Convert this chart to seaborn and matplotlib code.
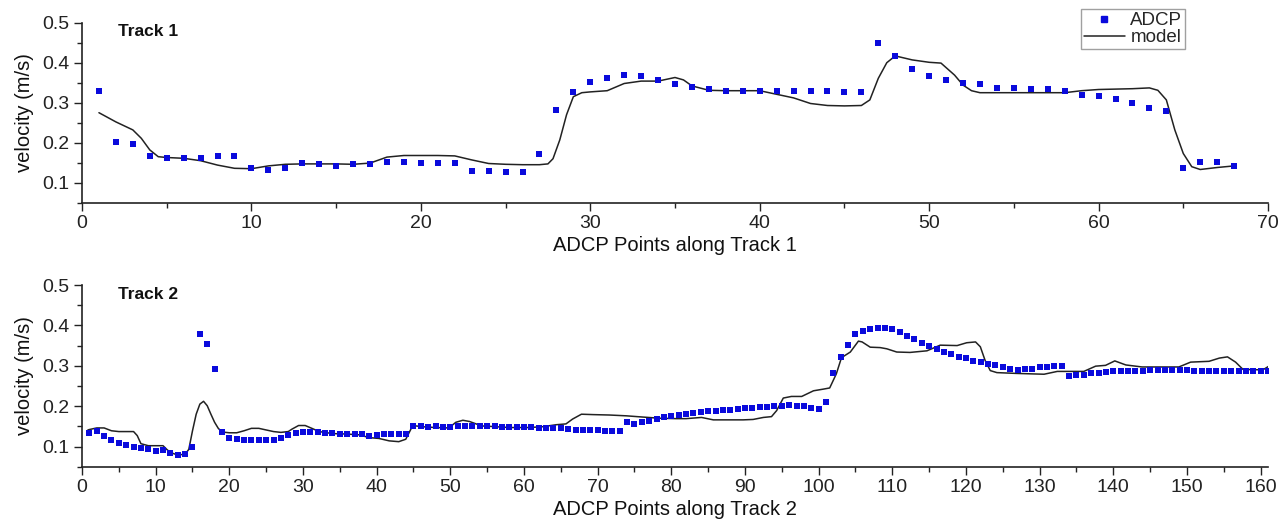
import numpy as np
import pandas as pd
import matplotlib
matplotlib.use("Agg")
import matplotlib.pyplot as plt
from matplotlib.ticker import MultipleLocator
from matplotlib.lines import Line2D
import seaborn as sns

# ---------------- Track 1 ----------------
t1_adcp_x = list(range(1, 69))
t1_adcp_v = [0.330, 0.203, 0.198, 0.168, 0.163, 0.163, 0.161, 0.167, 0.166, 0.136,
             0.133, 0.138, 0.149, 0.147, 0.143, 0.146, 0.148, 0.151, 0.152, 0.150,
             0.149, 0.150, 0.129, 0.129, 0.128, 0.127, 0.172, 0.281, 0.326, 0.352,
             0.362, 0.369, 0.368, 0.356, 0.347, 0.340, 0.334, 0.330, 0.330, 0.330,
             0.329, 0.328, 0.328, 0.329, 0.327, 0.327, 0.450, 0.417, 0.384, 0.368,
             0.358, 0.349, 0.346, 0.336, 0.336, 0.333, 0.333, 0.329, 0.319, 0.317,
             0.309, 0.299, 0.288, 0.278, 0.138, 0.151, 0.151, 0.142]

t1_model_x = [1, 2, 3, 3.5, 4, 4.5, 5, 6, 7, 8, 9, 10, 11, 12, 13, 14, 15, 16, 17, 18,
              19, 20, 21, 22, 23, 24, 25, 26, 27, 27.5, 27.8, 28.2, 28.6, 29, 29.5, 30,
              31, 32, 33, 34, 35, 35.5, 36, 37, 38, 39, 40, 41, 42, 43, 44, 45, 46, 46.5,
              47, 47.5, 48, 49, 50, 50.7, 51.5, 52, 52.5, 53, 54, 55, 56, 57, 58, 59, 60,
              61, 62, 63, 63.5, 64, 64.5, 65, 65.5, 66, 67, 68]
t1_model_v = [0.275, 0.252, 0.232, 0.211, 0.182, 0.165, 0.163, 0.161, 0.155, 0.144,
              0.136, 0.135, 0.142, 0.146, 0.147, 0.147, 0.147, 0.146, 0.149, 0.164,
              0.168, 0.168, 0.168, 0.167, 0.157, 0.148, 0.146, 0.145, 0.145, 0.147,
              0.160, 0.207, 0.270, 0.315, 0.325, 0.327, 0.330, 0.348, 0.354, 0.354,
              0.363, 0.357, 0.342, 0.331, 0.330, 0.330, 0.330, 0.321, 0.312, 0.298,
              0.293, 0.292, 0.293, 0.307, 0.361, 0.400, 0.417, 0.407, 0.401, 0.399,
              0.369, 0.344, 0.330, 0.325, 0.325, 0.325, 0.325, 0.325, 0.325, 0.330,
              0.333, 0.334, 0.335, 0.337, 0.331, 0.307, 0.232, 0.173, 0.140, 0.133,
              0.138, 0.142]

# ---------------- Track 2 ----------------
t2_adcp_x = list(range(1, 162))
t2_adcp_v = [0.133, 0.138, 0.125, 0.116, 0.108, 0.104, 0.100, 0.097, 0.094, 0.090,
             0.091, 0.083, 0.080, 0.082, 0.099, 0.378, 0.354, 0.293, 0.136, 0.120,
             0.118, 0.117, 0.115, 0.115, 0.116, 0.117, 0.122, 0.128, 0.133, 0.135,
             0.137, 0.137, 0.134, 0.134, 0.132, 0.131, 0.131, 0.130, 0.127, 0.128,
             0.130, 0.131, 0.132, 0.132, 0.152, 0.151, 0.149, 0.150, 0.148, 0.148,
             0.150, 0.151, 0.151, 0.151, 0.151, 0.150, 0.149, 0.149, 0.148, 0.149,
             0.148, 0.147, 0.146, 0.146, 0.145, 0.144, 0.142, 0.141, 0.141, 0.140,
             0.138, 0.138, 0.138, 0.160, 0.156, 0.161, 0.164, 0.169, 0.172, 0.176,
             0.178, 0.181, 0.184, 0.185, 0.187, 0.188, 0.190, 0.190, 0.192, 0.195,
             0.196, 0.197, 0.199, 0.200, 0.200, 0.202, 0.201, 0.200, 0.195, 0.192,
             0.211, 0.283, 0.321, 0.351, 0.379, 0.387, 0.392, 0.394, 0.394, 0.390,
             0.384, 0.374, 0.366, 0.357, 0.350, 0.342, 0.333, 0.328, 0.322, 0.318,
             0.313, 0.310, 0.305, 0.301, 0.296, 0.292, 0.290, 0.292, 0.293, 0.296,
             0.297, 0.299, 0.300, 0.274, 0.276, 0.278, 0.281, 0.283, 0.284, 0.286,
             0.287, 0.288, 0.288, 0.288, 0.289, 0.290, 0.290, 0.290, 0.290, 0.289,
             0.288, 0.288, 0.288, 0.288, 0.288, 0.288, 0.288, 0.287, 0.287, 0.287,
             0.286]

t2_model_x = [0.8, 1, 2, 3, 4, 5, 6, 7, 7.5, 8, 9, 10, 11, 11.5, 12, 13, 14, 14.5, 15,
              15.5, 16, 16.5, 17, 17.5, 18, 18.5, 19, 20, 21, 22, 23, 24, 25, 26, 27,
              28, 28.5, 29.4, 30.3, 31.2, 32.2, 34, 35.8, 37.6, 39, 40.3, 41.7, 43,
              43.95, 44.9, 46.2, 48, 49.8, 50.75, 51.7, 52.6, 53.5, 54.2, 55.3, 58,
              60.7, 62.5, 64.4, 65.7, 66.6, 67.8, 69.4, 71.6, 73.9, 76.1, 78.4, 80.7,
              82, 84.1, 85.7, 87.5, 89.75, 91.1, 92.5, 93.6, 94.3, 95.2, 96.3, 97.7,
              99.3, 100.6, 101.5, 102.4, 103.1, 104.3, 105.4, 105.9, 107, 108.35,
              109.25, 110.6, 112.4, 114.7, 116.5, 118.8, 120.1, 121.3, 121.95, 122.6,
              123.3, 124.2, 126.9, 130.6, 132.4, 135.1, 136, 137.6, 138.95, 140.2,
              141.7, 143.9, 146.2, 148.9, 150.5, 153, 154.4, 155.5, 156.6, 157.6,
              159.8, 160.5, 161.3]
t2_model_v = [0.141, 0.142, 0.146, 0.146, 0.139, 0.137, 0.137, 0.137, 0.127, 0.107,
              0.102, 0.102, 0.102, 0.093, 0.085, 0.079, 0.081, 0.093, 0.139, 0.180,
              0.205, 0.212, 0.201, 0.180, 0.160, 0.145, 0.136, 0.134, 0.134, 0.139,
              0.145, 0.145, 0.141, 0.137, 0.135, 0.137, 0.143, 0.152, 0.152, 0.145,
              0.137, 0.132, 0.131, 0.129, 0.122, 0.120, 0.114, 0.112, 0.118, 0.152,
              0.149, 0.147, 0.146, 0.160, 0.165, 0.162, 0.156, 0.151, 0.150, 0.147,
              0.147, 0.149, 0.154, 0.156, 0.168, 0.180, 0.179, 0.178, 0.176, 0.173,
              0.170, 0.169, 0.169, 0.172, 0.166, 0.166, 0.166, 0.167, 0.172, 0.174,
              0.189, 0.220, 0.224, 0.224, 0.238, 0.242, 0.245, 0.280, 0.320, 0.334,
              0.361, 0.359, 0.346, 0.345, 0.342, 0.334, 0.333, 0.337, 0.351, 0.350,
              0.357, 0.359, 0.347, 0.313, 0.288, 0.283, 0.281, 0.279, 0.286, 0.286,
              0.286, 0.299, 0.301, 0.312, 0.302, 0.297, 0.297, 0.297, 0.309, 0.311,
              0.319, 0.322, 0.309, 0.291, 0.290, 0.292, 0.301]

track_labels = ["Track 1", "Track 2"]
xlabels = ["ADCP Points along Track 1", "ADCP Points along Track 2"]
ylabel = "velocity (m/s)"
legend_labels = ["ADCP", "model"]

sns.set_style("ticks")
plt.rcParams["font.family"] = ["Liberation Sans", "DejaVu Sans"]

W, H = 1279, 523
fig = plt.figure(figsize=(W / 100, H / 100), dpi=100)

def fx(px):
    return px / W

def fy(py):
    return 1 - py / H

ax1 = fig.add_axes([fx(82), fy(202.7), fx(1268) - fx(82), fy(22.7) - fy(202.7)])
ax2 = fig.add_axes([fx(82), fy(466.7), fx(1268) - fx(82), fy(285) - fy(466.7)])

blue = "#0a0adc"
line_c = "#222222"

panels = [
    (ax1, t1_adcp_x, t1_adcp_v, t1_model_x, t1_model_v, 70, 10, 5),
    (ax2, t2_adcp_x, t2_adcp_v, t2_model_x, t2_model_v, 161, 10, 5),
]

for i, (ax, ax_x, ax_v, mx, mv, xmax, maj, mnr) in enumerate(panels):
    sns.lineplot(x=mx, y=mv, ax=ax, color=line_c, linewidth=1.1, sort=False,
                 estimator=None)
    sns.scatterplot(x=ax_x, y=ax_v, ax=ax, color=blue, marker="s", s=14,
                    linewidth=0, zorder=3)
    ax.set_xlim(0, xmax)
    ax.set_ylim(0.05, 0.5)
    ax.xaxis.set_major_locator(MultipleLocator(maj))
    ax.xaxis.set_minor_locator(MultipleLocator(mnr))
    ax.yaxis.set_major_locator(MultipleLocator(0.1))
    ax.yaxis.set_minor_locator(MultipleLocator(0.05))
    ax.set_yticks([0.1, 0.2, 0.3, 0.4, 0.5])
    ax.set_yticklabels(["0.1", "0.2", "0.3", "0.4", "0.5"])
    ax.tick_params(axis="both", which="major", direction="out", length=6,
                   width=1, labelsize=14, colors="#222222", pad=3)
    ax.tick_params(axis="both", which="minor", direction="out", length=3.5,
                   width=1, colors="#222222")
    for s in ["top", "right"]:
        ax.spines[s].set_visible(False)
    for s in ["left", "bottom"]:
        ax.spines[s].set_linewidth(1.2)
        ax.spines[s].set_color("#222222")
    ax.set_xlabel(xlabels[i], fontsize=14.5, labelpad=3, color="#111111")
    ax.set_ylabel(ylabel, fontsize=14.5, labelpad=6, color="#111111")
    ax.text(0.030, 0.95, track_labels[i], transform=ax.transAxes, fontsize=12.5,
            fontweight="bold", ha="left", va="center", color="#111111")

handles = [
    Line2D([], [], marker="s", color=blue, linestyle="none", markersize=3.8),
    Line2D([], [], color=line_c, linewidth=1.1),
]
leg = fig.legend(handles, legend_labels, loc="upper left",
                 bbox_to_anchor=(fx(1080.7), fy(9.3)), frameon=True,
                 fancybox=False, fontsize=13.5, handlelength=2.2,
                 handletextpad=0.3, borderpad=0.15, labelspacing=0.0,
                 borderaxespad=0)
leg.get_frame().set_edgecolor("#888888")
leg.get_frame().set_linewidth(1.0)

fig.savefig("out.png", dpi=100)
